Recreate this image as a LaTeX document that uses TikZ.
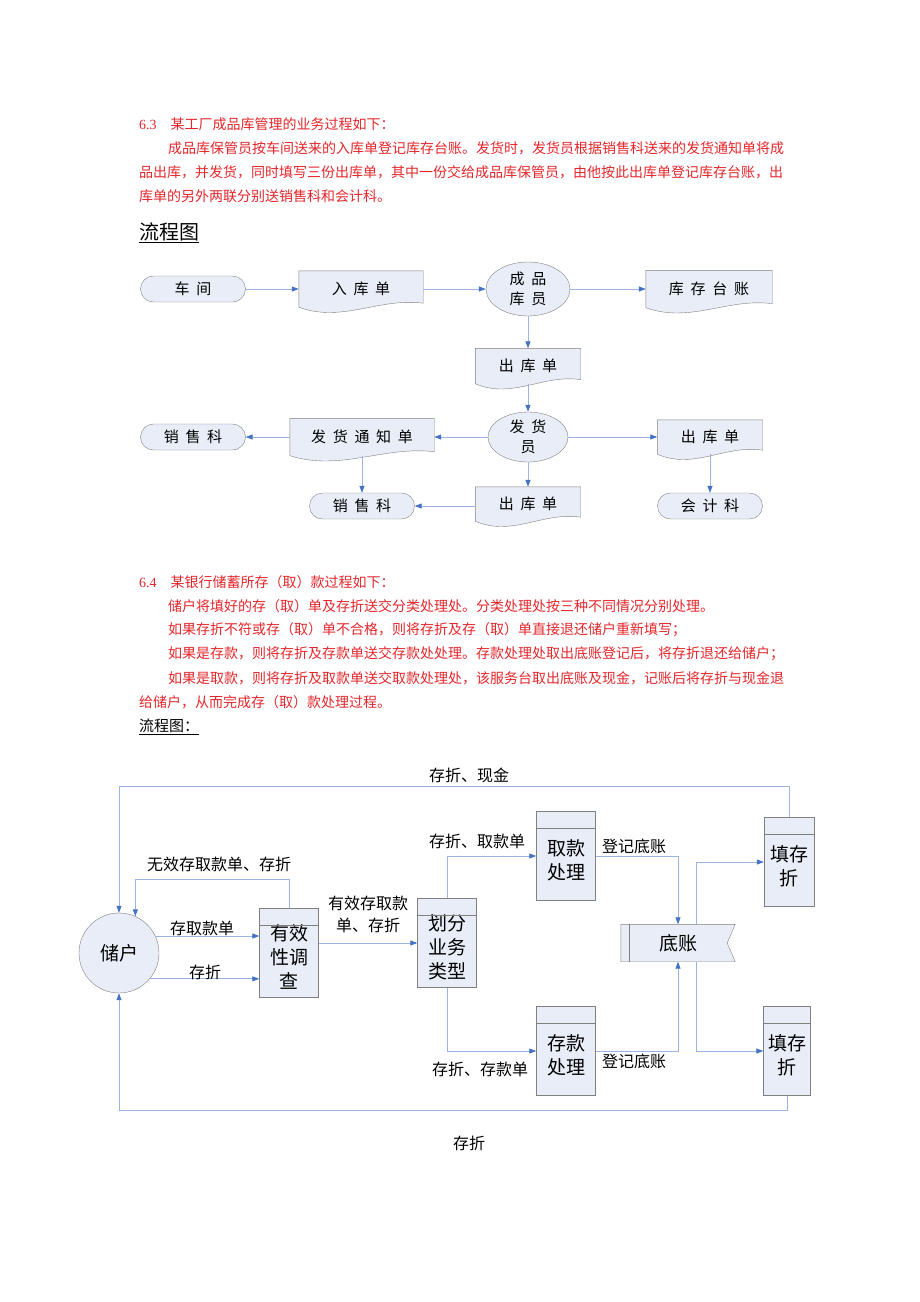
\documentclass[tikz,border=0pt]{standalone}
\usepackage{fontspec}
\setmainfont{Liberation Serif}
\newfontfamily\cjk{Noto Sans CJK SC}
\usetikzlibrary{shapes.geometric,arrows.meta,positioning,calc,backgrounds}
\definecolor{boxfill}{HTML}{E8EDF7}
\definecolor{boxgray}{HTML}{808080}
\definecolor{lineblue}{HTML}{9DB5DE}
\definecolor{tipblue}{HTML}{4472C4}
\definecolor{txtred}{HTML}{E3262B}
\tikzset{
  flow/.style={draw=lineblue, thick, -{Triangle[length=7pt,width=5pt,color=tipblue]}},
  term/.style={draw=boxgray, fill=boxfill, rounded corners=13, minimum width=105, minimum height=26, inner sep=0, font=\cjk\fontsize{15}{15}\selectfont},
  proc/.style={ellipse, draw=boxgray, fill=boxfill, inner sep=0, align=center, font=\cjk\fontsize{15}{20}\selectfont},
  doc/.style={inner sep=0, font=\cjk\fontsize{15}{15}\selectfont},
  box/.style={draw=boxgray, fill=boxfill, minimum width=59, minimum height=89, inner sep=0, align=center, font=\cjk\fontsize{19}{24}\selectfont},
  lbl/.style={font=\cjk\fontsize{16}{22}\selectfont, inner sep=0, align=center},
  para/.style={anchor=west, text=txtred, font=\cjk\fontsize{14}{14}\selectfont, inner sep=0},
}
\newcommand{\docbg}[1]{%
  \begin{scope}[on background layer]
    \filldraw[draw=boxgray, fill=boxfill] (#1.north west) -- (#1.north east) -- ($(#1.south east)+(0,-4)$)
      .. controls ($(#1.south west)!0.65!(#1.south east)+(0,-10)$) and ($(#1.south west)!0.35!(#1.south east)+(0,16)$) .. (#1.south west) -- cycle;
  \end{scope}}
\newcommand{\boxhead}[1]{\draw[boxgray] ($(#1.north west)+(0,17)$) -- ($(#1.north east)+(0,17)$);}
\begin{document}
\begin{tikzpicture}[x=1pt, y=-1pt]
  \useasboundingbox (0,0) rectangle (920,1302);

  % 6.3 文字
  \node[para] (t63a) at (139,124) {{\rmfamily 6.3}\hspace{14pt}某工厂成品库管理的业务过程如下：};
  \node[para] (t63b) at (168,148) {成品库保管员按车间送来的入库单登记库存台账。发货时，发货员根据销售科送来的发货通知单将成};
  \node[para] (t63c) at (139,172) {品出库，并发货，同时填写三份出库单，其中一份交给成品库保管员，由他按此出库单登记库存台账，出};
  \node[para] (t63d) at (139,196) {库单的另外两联分别送销售科和会计科。};
  \node[anchor=west, inner sep=0, font=\cjk\fontsize{20}{20}\selectfont] (head1) at (139,233) {\underline{流程图}};

  % 流程图 1
  \node[term] (chejian) at (193,289) {车\ \ 间};
  \node[doc, minimum width=124, minimum height=36] (rukudan) at (361,289) {入\ \ 库\ \ 单\\[-2pt]};
  \node[proc, minimum width=84, minimum height=54] (kuyuan) at (528,289) {成\ \ 品\\库\ \ 员};
  \node[doc, minimum width=126, minimum height=37] (taizhang) at (709,289) {库\ \ 存\ \ 台\ \ 账};
  \node[doc, minimum width=105, minimum height=35] (chuku1) at (528,366) {出\ \ 库\ \ 单};
  \node[proc, minimum width=80, minimum height=50] (fahuo) at (528,437) {发\ \ 货\\员};
  \node[doc, minimum width=144, minimum height=37] (tongzhi) at (362,437) {发\ \ 货\ \ 通\ \ 知\ \ 单};
  \node[term] (xiaoshou1) at (193,437) {销\ \ 售\ \ 科};
  \node[doc, minimum width=105, minimum height=34] (chuku2) at (710,437) {出\ \ 库\ \ 单};
  \node[doc, minimum width=105, minimum height=34] (chuku3) at (528,504) {出\ \ 库\ \ 单};
  \node[term] (xiaoshou2) at (362,506) {销\ \ 售\ \ 科};
  \node[term] (kuaiji) at (710,506) {会\ \ 计\ \ 科};
  \foreach \d in {rukudan, taizhang, chuku1, tongzhi, chuku2, chuku3} {\docbg{\d}}

  \draw[flow] (chejian) -- (rukudan);
  \draw[flow] (rukudan) -- (kuyuan);
  \draw[flow] (kuyuan) -- (taizhang);
  \draw[flow] (kuyuan) -- (chuku1);
  \draw[flow] (chuku1.south) -- (fahuo);
  \draw[flow] (fahuo) -- (tongzhi);
  \draw[flow] (tongzhi) -- (xiaoshou1);
  \draw[flow] (fahuo) -- (chuku2);
  \draw[flow] (fahuo) -- (chuku3);
  \draw[flow] (chuku3.west |- xiaoshou2.east) -- (xiaoshou2);
  \draw[flow] (tongzhi.south) -- (xiaoshou2);
  \draw[flow] (chuku2.south) -- (kuaiji);

  % 6.4 文字
  \node[para] (t64a) at (139,582) {{\rmfamily 6.4}\hspace{14pt}某银行储蓄所存（取）款过程如下：};
  \node[para] (t64b) at (168,606) {储户将填好的存（取）单及存折送交分类处理处。分类处理处按三种不同情况分别处理。};
  \node[para] (t64c) at (168,630) {如果存折不符或存（取）单不合格，则将存折及存（取）单直接退还储户重新填写；};
  \node[para] (t64d) at (168,654) {如果是存款，则将存折及存款单送交存款处处理。存款处理处取出底账登记后，将存折退还给储户；};
  \node[para] (t64e) at (168,678) {如果是取款，则将存折及取款单送交取款处理处，该服务台取出底账及现金，记账后将存折与现金退};
  \node[para] (t64f) at (139,702) {给储户，从而完成存（取）款处理过程。};
  \node[anchor=west, inner sep=0, font=\cjk\fontsize{15}{15}\selectfont] (head2) at (139,727) {\underline{流程图：}};

  % 流程图 2
  \node[circle, draw=boxgray, fill=boxfill, minimum size=80, inner sep=0, font=\cjk\fontsize{19}{19}\selectfont] (chuhu) at (119,953) {储户};
  \node[box] (youxiao) at (289,953) {\\[0pt]有效\\性调\\查};
  \node[box] (huafen) at (447,943) {\\[0pt]划分\\业务\\类型};
  \node[box] (qukuan) at (566,856) {\\[0pt]取款\\处理};
  \node[box] (cunkuan) at (566,1051) {\\[0pt]存款\\处理};
  \node[box, minimum width=50] (tian1) at (789,862) {\\[0pt]填存\\折};
  \node[box, minimum width=47] (tian2) at (787,1051) {\\[0pt]填存\\折};
  \foreach \b in {youxiao, huafen, qukuan, cunkuan, tian1, tian2} {\boxhead{\b}}
  \node[inner sep=0, minimum width=114, minimum height=37, font=\cjk\fontsize{19}{19}\selectfont] (dizhang) at (678,943) {底账};
  \begin{scope}[on background layer]
    \filldraw[draw=boxgray, fill=boxfill] (dizhang.north west) -- (dizhang.north east) -- ($(dizhang.east)+(-8,0)$) -- (dizhang.south east) -- (dizhang.south west) -- cycle;
    \draw[boxgray] ($(dizhang.north west)+(8,0)$) -- ($(dizhang.south west)+(8,0)$);
  \end{scope}

  \draw[flow] (tian1.north) -- ++(0,-31) -| (chuhu.north);
  \draw[flow] (tian2.south) -- ++(0,15) -| (chuhu.south);
  \draw[flow] (youxiao.north) -- ++(0,-29) -| (chuhu.66);
  \draw[flow] (chuhu.25) -- (chuhu.25 -| youxiao.west);
  \draw[flow] (chuhu.-40) -- (chuhu.-40 -| youxiao.west);
  \draw[flow] (youxiao.east |- huafen.west) -- (huafen.west);
  \draw[flow] (huafen.north) |- (qukuan.west);
  \draw[flow] (huafen.south) |- (cunkuan.west);
  \draw[flow] (qukuan.east) -| (dizhang.north);
  \draw[flow] (cunkuan.east) -| (dizhang.south);
  \draw[flow] ($(dizhang.north)+(18,0)$) |- (tian1.west);
  \draw[flow] ($(dizhang.south)+(18,0)$) |- (tian2.west);

  \node[lbl] (l1) at (469,775) {存折、现金};
  \node[lbl] (l2) at (219,864) {无效存取款单、存折};
  \node[lbl] (l3) at (202,928) {存取款单};
  \node[lbl] (l4) at (205,972) {存折};
  \node[lbl] (l5) at (368,914) {有效存取款\\单、存折};
  \node[lbl] (l6) at (477,841) {存折、取款单};
  \node[lbl] (l7) at (634,846) {登记底账};
  \node[lbl] (l8) at (480,1069) {存折、存款单};
  \node[lbl] (l9) at (634,1061) {登记底账};
  \node[lbl] (l10) at (469,1143) {存折};
\end{tikzpicture}
\end{document}
